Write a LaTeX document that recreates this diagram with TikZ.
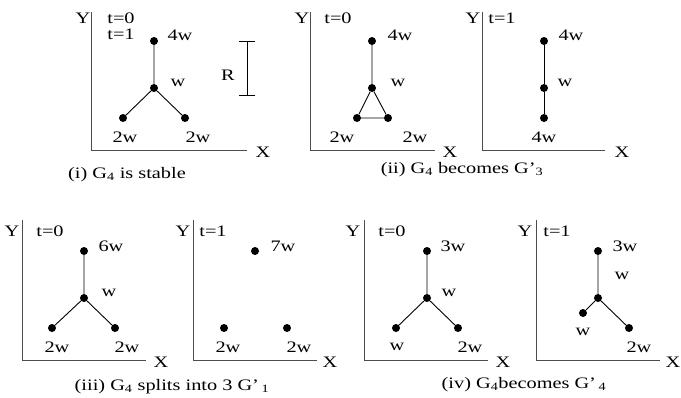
\documentclass[tikz,border=0pt]{standalone}
\usepackage{fontspec}
\setmainfont{Liberation Serif}[FakeStretch=1.27]
\tikzset{
  dot/.style={circle,fill=black,inner sep=0pt,minimum size=8pt},
  lbl/.style={inner sep=0pt,font=\fontsize{16}{16}\selectfont},
  axis/.style={black!70,line width=1pt},
  edge/.style={black,line width=0.9pt}
}
\begin{document}
\begin{tikzpicture}[x=1pt,y=-1pt]
\useasboundingbox (0,0) rectangle (681,397);
% axes
\foreach \ax/\ay/\bx/\by in {91/12/247/150, 310/12/435/150, 482/12/605/150, 22/220/146/360, 193/220/317/360, 364/220/488/360, 536/220/660/360}
  \draw[axis] (\ax,\ay)--(\ax,\by)--(\bx,\by);
\foreach \px/\py/\qx/\qy in {83/18/263/152, 302/18/450/152, 473/18/622/152, 12/231/161/362, 183/231/330/362, 353/231/503/362, 525/231/673/362}
  { \node[lbl] at (\px,\py) {Y}; \node[lbl] at (\qx,\qy) {X}; }
% (i)
\node[lbl] (t0a) at (121,18) {t=0};
\node[lbl] (t1a) at (121,34) {t=1};
\node[dot] (a1) at (154,41) {};
\node[dot] (a2) at (154,88) {};
\node[dot] (a3) at (123,118) {};
\node[dot] (a4) at (185,118) {};
\draw[edge] (a1)--(a2) (a2)--(a3) (a2)--(a4);
\node[lbl] at (180,35) {4w};
\node[lbl] at (178,83) {w};
\node[lbl] at (125,137) {2w};
\node[lbl] at (198,137) {2w};
\coordinate (rtop) at (247,41);
\coordinate (rbot) at (247,95);
\draw[edge] (rtop)--(rbot) ([xshift=-8pt]rtop)--([xshift=8pt]rtop) ([xshift=-8pt]rbot)--([xshift=8pt]rbot);
\node[lbl] at (228,75) {R};
\node[lbl,anchor=base] at (127,178) {(i) G\textsubscript{4} is stable};
% (ii)
\node[lbl] (t0b) at (338,18) {t=0};
\node[dot] (b1) at (372,41) {};
\node[dot] (b2) at (372,88) {};
\node[dot] (b3) at (357,118) {};
\node[dot] (b4) at (388,118) {};
\draw[edge] (b1)--(b2) (b2)--(b3) (b2)--(b4) (b3)--(b4);
\node[lbl] at (400,35) {4w};
\node[lbl] at (398,83) {w};
\node[lbl] at (342,137) {2w};
\node[lbl] at (415,137) {2w};
\node[lbl] (t1b) at (502,18) {t=1};
\node[dot] (c1) at (544,41) {};
\node[dot] (c2) at (544,88) {};
\node[dot] (c3) at (544,118) {};
\draw[edge] (c1)--(c2) (c2)--(c3);
\node[lbl] at (571,35) {4w};
\node[lbl] at (565,83) {w};
\node[lbl] at (544,137) {4w};
\node[lbl,anchor=base] at (462,173) {(ii) G\textsubscript{4} becomes G’\textsubscript{3}};
% (iii)
\node[lbl] (t0c) at (50,231) {t=0};
\node[dot] (d1) at (84,251) {};
\node[dot] (d2) at (84,298) {};
\node[dot] (d3) at (52,328) {};
\node[dot] (d4) at (115,328) {};
\draw[edge] (d1)--(d2) (d2)--(d3) (d2)--(d4);
\node[lbl] at (111,246) {6w};
\node[lbl] at (109,293) {w};
\node[lbl] at (57,347) {2w};
\node[lbl] at (127,347) {2w};
\node[lbl] (t1c) at (213,231) {t=1};
\node[dot] (e1) at (255,251) {};
\node[dot] (e3) at (224,328) {};
\node[dot] (e4) at (287,328) {};
\node[lbl] at (283,246) {7w};
\node[lbl] at (228,347) {2w};
\node[lbl] at (299,347) {2w};
\node[lbl,anchor=base] at (172,390) {(iii) G\textsubscript{4} splits into 3 G’\,\textsubscript{1}};
% (iv)
\node[lbl] (t0d) at (392,231) {t=0};
\node[dot] (f1) at (427,251) {};
\node[dot] (f2) at (427,298) {};
\node[dot] (f3) at (396,328) {};
\node[dot] (f4) at (458,328) {};
\draw[edge] (f1)--(f2) (f2)--(f3) (f2)--(f4);
\node[lbl] at (453,246) {3w};
\node[lbl] at (449,293) {w};
\node[lbl] at (397,347) {w};
\node[lbl] at (470,347) {2w};
\node[lbl] (t1d) at (557,231) {t=1};
\node[dot] (g1) at (598,251) {};
\node[dot] (g2) at (598,298) {};
\node[dot] (g3) at (583,313) {};
\node[dot] (g4) at (629,328) {};
\draw[edge] (g1)--(g2) (g2)--(g3) (g2)--(g4);
\node[lbl] at (625,246) {3w};
\node[lbl] at (622,276) {w};
\node[lbl] at (583,332) {w};
\node[lbl] at (639,347) {2w};
\node[lbl,anchor=base] at (524,388) {(iv) G\textsubscript{4}becomes G’\,\textsubscript{4}};
\end{tikzpicture}
\end{document}
